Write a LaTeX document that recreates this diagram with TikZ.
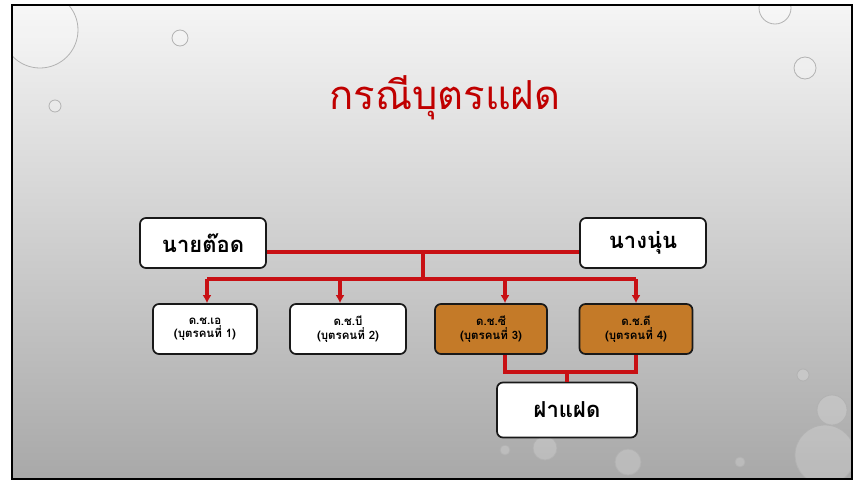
\documentclass[tikz,border=0pt]{standalone}
\usepackage{fontspec}
\newfontfamily\thaifont[Script=Thai]{Loma}
\usetikzlibrary{arrows.meta}
\definecolor{titlered}{RGB}{192,0,0}
\definecolor{linered}{RGB}{200,16,20}
\definecolor{kidorange}{RGB}{196,122,40}
\def\droplist{{(40,30)/38}, {(180,38)/8}, {(55,106)/6}, {(775,8)/16}, {(805,68)/11}, {(803,375)/6}, {(832,410)/15}, {(505,450)/5}, {(545,448)/12}, {(628,462)/13}, {(740,462)/5}, {(825,455)/30}}
\tikzstyle{edge} = [draw, linered, line width=3.4pt]
\tikzstyle{arrowedge} = [edge, -{Latex[length=8pt,width=9pt]}]
\tikzstyle{person}=[draw=black!90, line width=1.7pt, rounded corners=6pt, fill=white, font=\thaifont\bfseries, align=center, inner sep=0pt]
\tikzstyle{parent}=[person, minimum width=126pt, minimum height=50pt, font=\thaifont\bfseries\fontsize{22}{24}\selectfont]
\tikzstyle{kid}=[person, minimum height=50pt, font=\thaifont\bfseries\fontsize{11.5}{13.5}\selectfont]
\tikzstyle{twinkid}=[kid, fill=kidorange]
\tikzstyle{drop}=[draw=black!30, line width=0.8pt, fill=white, fill opacity=0.2]

\begin{document}
\begin{tikzpicture}[x=1pt, y=-1pt]
  \useasboundingbox (0,0) rectangle (856,482);
  % slide background
  \fill[white] (0,0) rectangle (856,482);
  \shade[top color=black!4, bottom color=black!34] (12,5) rectangle (852,479);
  \begin{scope}
    \clip (12,5) rectangle (852,479);
    \foreach \pos/\r in \droplist {
      \path[drop] \pos circle (\r);
    }
  \end{scope}
  \draw[black, line width=1.6pt] (12,5) rectangle (852,479);

  % title
  \node[text=titlered, font=\thaifont\fontsize{40}{44}\selectfont] (title) at (445,98) {กรณีบุตรแฝด};

  % parents
  \node[parent] (father) at (203,243) {นายต๊อด};
  \node[parent] (mother) at (643,243) {นางนุ่น};

  % children
  \node[kid, minimum width=104pt] (kida) at (205,329) {ด.ช.เอ\\(บุตรคนที่ 1)};
  \node[kid, minimum width=116pt] (kidb) at (348,329) {ด.ช.บี\\(บุตรคนที่ 2)};
  \node[twinkid, minimum width=112pt] (kidc) at (491,329) {ด.ช.ซี\\(บุตรคนที่ 3)};
  \node[twinkid, minimum width=113pt] (kidd) at (636,329) {ด.ช.ดี\\(บุตรคนที่ 4)};

  % twins
  \node[parent, minimum width=140pt, minimum height=55pt] (twins) at (567,410) {ฝาแฝด};

  % junctions
  \coordinate (marry) at (423,252);
  \coordinate (split) at (423,279);
  \coordinate (ja) at (207,279);
  \coordinate (jb) at (340,279);
  \coordinate (jc) at (505,279);
  \coordinate (jd) at (636,279);
  \coordinate (tc) at (505,372);
  \coordinate (td) at (636,372);
  \coordinate (tj) at (567,372);

  \path[edge] (father.east |- marry) -- (mother.west |- marry);
  \path[edge] (marry) -- (split);
  \path[edge] (ja) -- (jd);
  \foreach \source/\sink in {ja/kida, jb/kidb, jc/kidc, jd/kidd} {
    \path[arrowedge] (\source) -- (\source |- \sink.north);
  }
  \path[edge] (kidc.south -| tc) -- (tc) -- (td) -- (kidd.south -| td);
  \path[edge] (tj) -- (twins.north);
\end{tikzpicture}
\end{document}
